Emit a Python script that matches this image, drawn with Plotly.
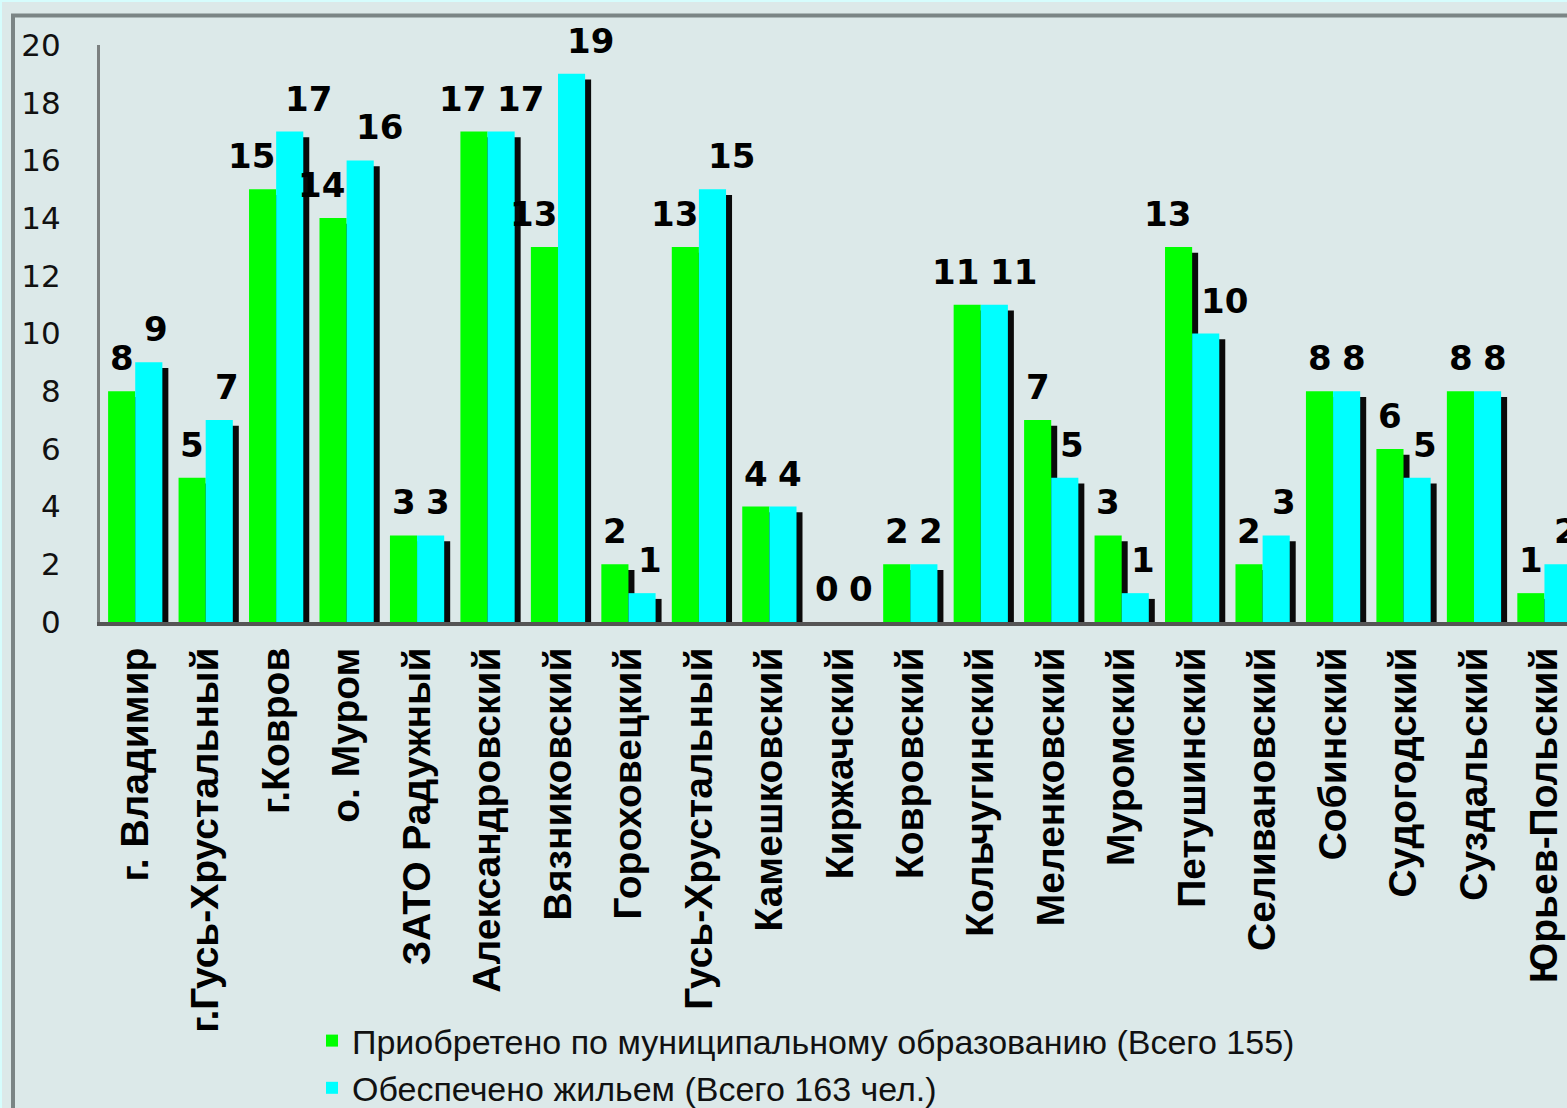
import plotly.graph_objects as go

categories = ["г. Владимир", "г.Гусь-Хрустальный", "г.Ковров", "о. Муром", "ЗАТО Радужный",
              "Александровский", "Вязниковский", "Гороховецкий", "Гусь-Хрустальный", "Камешковский",
              "Киржачский", "Ковровский", "Кольчугинский", "Меленковский", "Муромский",
              "Петушинский", "Селивановский", "Собинский", "Судогодский", "Суздальский", "Юрьев-Польский"]
acquired = [8, 5, 15, 14, 3, 17, 13, 2, 13, 4, 0, 2, 11, 7, 3, 13, 2, 8, 6, 8, 1]
housed = [9, 7, 17, 16, 3, 17, 19, 1, 15, 4, 0, 2, 11, 5, 1, 10, 3, 8, 5, 8, 2]
series_names = ["Приобретено по муниципальному образованию (Всего 155)",
                "Обеспечено жильем (Всего 163 чел.)"]
y_ticks = [0, 2, 4, 6, 8, 10, 12, 14, 16, 18, 20]

W, H = 1567, 1108
L, R, T, B = 100, 0, 45, 486
PW, PH = W - L - R, H - T - B
BG = "#dce9e9"
bw = 0.385        # bar width (category units)
sx, sy = 0.085, 0.2  # shadow shift


def px_x(px):
    return (px - L) / PW


def px_y(py):
    return (H - B - py) / PH


fig = go.Figure()
series = [(acquired, -bw, "#00ff00"), (housed, 0.0, "#00ffff")]
for vals, off, col in series:
    fig.add_trace(go.Bar(x=categories, y=[max(v - sy, 0) for v in vals], offset=off + sx, width=bw,
                         marker=dict(color="#0a0a0a", line=dict(width=0)),
                         showlegend=False, hoverinfo="skip"))
for (vals, off, col), name in zip(series, series_names):
    fig.add_trace(go.Bar(x=categories, y=vals, offset=off, width=bw, name=name,
                         marker=dict(color=col, line=dict(width=0))))

label_font = dict(family="DejaVu Sans", size=34, color="black", weight="bold")
for i, v in enumerate(acquired):
    fig.add_annotation(x=i + 0.01, y=v, text=str(v), showarrow=False, xanchor="right",
                       yanchor="bottom", yshift=11, font=label_font)
for i, v in enumerate(housed):
    fig.add_annotation(x=i + 0.1, y=v, text=str(v), showarrow=False, xanchor="left",
                       yanchor="bottom", yshift=11, font=label_font)

fig.add_shape(type="rect", xref="paper", yref="paper",
              x0=px_x(0.5), x1=px_x(W + 20), y0=px_y(H + 20), y1=px_y(0.5),
              line=dict(color="#d6fdfd", width=3), layer="below")
fig.add_shape(type="rect", xref="paper", yref="paper",
              x0=px_x(13), x1=px_x(W + 40), y0=px_y(H + 40), y1=px_y(15.5),
              line=dict(color="#7b8585", width=4), layer="below")

fig.update_layout(
    width=W, height=H, margin=dict(l=L, r=R, t=T, b=B, pad=0, autoexpand=False),
    paper_bgcolor=BG, plot_bgcolor=BG,
    barmode="overlay", showlegend=True,
    legend=dict(x=px_x(312), y=px_y(1012), xanchor="left", yanchor="top",
                bgcolor="rgba(0,0,0,0)", font=dict(family="Liberation Sans", size=34, color="#111"),
                traceorder="normal"),
    xaxis=dict(range=[-0.5, 20.32], showline=True, linecolor="#555555", linewidth=4,
               tickangle=-90, ticks="", ticklabelstandoff=6, showgrid=False, automargin=False,
               tickfont=dict(family="Liberation Sans", size=39, color="black", weight="bold")),
    yaxis=dict(range=[0, 20], tickvals=y_ticks, showline=True, linecolor="#7b8080", linewidth=3,
               ticks="", showgrid=False, zeroline=False, ticklabelstandoff=30, automargin=False,
               tickfont=dict(family="DejaVu Sans", size=31, color="#111")),
)

fig.write_html("out.html", config={"displayModeBar": False},
               post_script="document.body.style.margin='0';document.body.style.background='#dce9e9';")
